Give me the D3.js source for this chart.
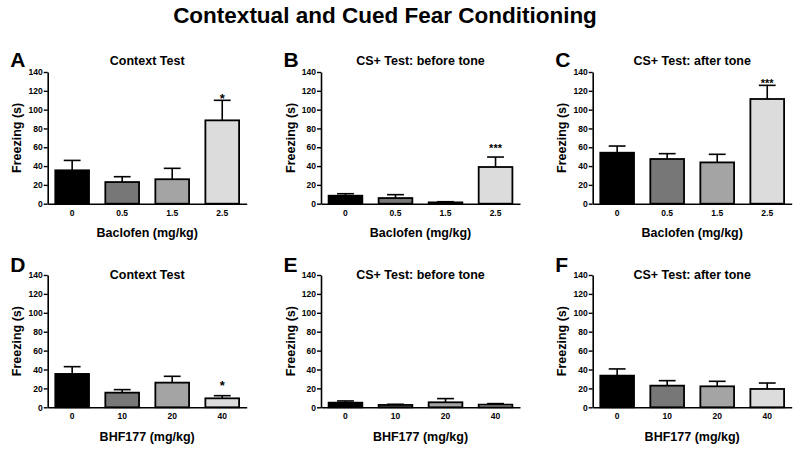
<!DOCTYPE html>
<html><head><meta charset="utf-8">
<script src="https://cdn.jsdelivr.net/npm/d3@7"></script>
<style>
body{margin:0;background:#fff;}
text{font-family:"Liberation Sans",Arial,sans-serif;font-weight:bold;fill:#000;}
</style></head>
<body><svg id="c" width="800" height="449"></svg>
<script>
const baclofenDoses = ["0", "0.5", "1.5", "2.5"];
const bhfDoses = ["0", "10", "20", "40"];
const yTicks = [0, 20, 40, 60, 80, 100, 120, 140];
const barColors = ["#000000", "#777777", "#a4a4a4", "#dcdcdc"];

const aMeans = [35.5, 23.0, 26.0, 88.6];
const aSem   = [10.5, 5.7, 11.6, 21.3];
const aStars = ["", "", "", "*"];

const bMeans = [8.5, 6.0, 1.4, 39.0];
const bSem   = [2.1, 3.6, 0.7, 10.6];
const bStars = ["", "", "", "***"];

const cMeans = [54.2, 47.5, 43.9, 111.3];
const cSem   = [7.1, 5.7, 8.6, 14.5];
const cStars = ["", "", "", "***"];

const dMeans = [35.3, 15.5, 26.1, 9.5];
const dSem   = [7.7, 3.2, 6.7, 2.8];
const dStars = ["", "", "", "*"];

const eMeans = [4.9, 2.5, 5.3, 2.8];
const eSem   = [1.8, 0.7, 3.9, 1.1];
const eStars = ["", "", "", ""];

const fMeans = [33.5, 22.9, 22.2, 19.4];
const fSem   = [7.1, 5.3, 5.3, 6.3];
const fStars = ["", "", "", ""];

const panels = [
  {letter:"A", title:"Context Test", xlabel:"Baclofen (mg/kg)", cats:baclofenDoses, means:aMeans, sem:aSem, stars:aStars, col:0, row:0, starGap:3},
  {letter:"B", title:"CS+ Test: before tone", xlabel:"Baclofen (mg/kg)", cats:baclofenDoses, means:bMeans, sem:bSem, stars:bStars, col:1, row:0, starGap:10},
  {letter:"C", title:"CS+ Test: after tone", xlabel:"Baclofen (mg/kg)", cats:baclofenDoses, means:cMeans, sem:cSem, stars:cStars, col:2, row:0, starGap:3.5},
  {letter:"D", title:"Context Test", xlabel:"BHF177 (mg/kg)", cats:bhfDoses, means:dMeans, sem:dSem, stars:dStars, col:0, row:1, starGap:11},
  {letter:"E", title:"CS+ Test: before tone", xlabel:"BHF177 (mg/kg)", cats:bhfDoses, means:eMeans, sem:eSem, stars:eStars, col:1, row:1, starGap:3},
  {letter:"F", title:"CS+ Test: after tone", xlabel:"BHF177 (mg/kg)", cats:bhfDoses, means:fMeans, sem:fSem, stars:fStars, col:2, row:1, starGap:3}
];

const svg = d3.select("#c");
svg.append("text").attr("x", 385).attr("y", 23).attr("text-anchor", "middle")
  .style("font-size", "22.5px").text("Contextual and Cued Fear Conditioning");

const colX = [47.7, 321, 592.7];
const rowY = [{top:72, bottom:203.7, titleY:65, letterY:67}, {top:275, bottom:407.3, titleY:279, letterY:272}];
const axW = 199;

panels.forEach(p => {
  const x0 = colX[p.col], r = rowY[p.row];
  const g = svg.append("g");
  const x = d3.scaleBand().domain(p.cats).range([x0, x0 + axW]).paddingInner(0.326).paddingOuter(0.152);
  const y = d3.scaleLinear().domain([0, 140]).range([r.bottom, r.top]);

  // bars
  g.selectAll("rect.bar").data(p.means).enter().append("rect")
    .attr("x", (d, i) => x(p.cats[i]))
    .attr("y", d => y(d))
    .attr("width", x.bandwidth())
    .attr("height", d => y(0) - y(d))
    .attr("fill", (d, i) => barColors[i])
    .attr("stroke", "#000").attr("stroke-width", 1.8);

  // error bars
  const capW = x.bandwidth() / 2;
  p.means.forEach((m, i) => {
    const cx = x(p.cats[i]) + x.bandwidth() / 2;
    const yt = y(m + p.sem[i]);
    g.append("line").attr("x1", cx).attr("x2", cx).attr("y1", y(m)).attr("y2", yt)
      .attr("stroke", "#000").attr("stroke-width", 1.6);
    g.append("line").attr("x1", cx - capW / 2).attr("x2", cx + capW / 2).attr("y1", yt).attr("y2", yt)
      .attr("stroke", "#000").attr("stroke-width", 1.6);
    if (p.stars[i]) {
      const single = p.stars[i].length === 1;
      g.append("text").attr("x", cx).attr("y", yt - p.starGap + (single ? 5.5 : 4.7))
        .attr("text-anchor", "middle")
        .style("font-size", single ? "13px" : "11px").text(p.stars[i]);
    }
  });

  // y axis
  const ya = g.append("g").attr("transform", `translate(${x0},0)`)
    .call(d3.axisLeft(y).tickValues(yTicks).tickSize(4).tickPadding(1).tickSizeOuter(0));
  ya.select(".domain").attr("stroke", "#000").attr("stroke-width", 1.6);
  ya.selectAll(".tick line").attr("stroke", "#000").attr("stroke-width", 1.4);
  ya.selectAll(".tick text").style("font-size", "8.5px").style("font-family", "Liberation Sans, Arial, sans-serif").style("font-weight", "bold").attr("fill", "#000");

  // x axis
  const xa = g.append("g").attr("transform", `translate(0,${r.bottom})`)
    .call(d3.axisBottom(x).tickSize(0).tickPadding(6).tickSizeOuter(0));
  xa.select(".domain").attr("stroke", "#000").attr("stroke-width", 1.6);
  xa.selectAll(".tick text").style("font-size", "8.5px").style("font-family", "Liberation Sans, Arial, sans-serif").style("font-weight", "bold").attr("fill", "#000");

  // labels
  g.append("text").attr("x", x0 + axW / 2).attr("y", r.titleY).attr("text-anchor", "middle")
    .style("font-size", "12.5px").text(p.title);
  g.append("text").attr("x", x0 + axW / 2).attr("y", r.bottom + 33.5).attr("text-anchor", "middle")
    .style("font-size", "12.5px").text(p.xlabel);
  g.append("text").attr("transform", `translate(${x0 - 26.5},${(r.top + r.bottom) / 2}) rotate(-90)`)
    .attr("text-anchor", "middle").style("font-size", "12.5px").text("Freezing (s)");
  g.append("text").attr("x", x0 - 37.5).attr("y", r.letterY)
    .style("font-size", "21px").text(p.letter);
});
</script></body></html>
